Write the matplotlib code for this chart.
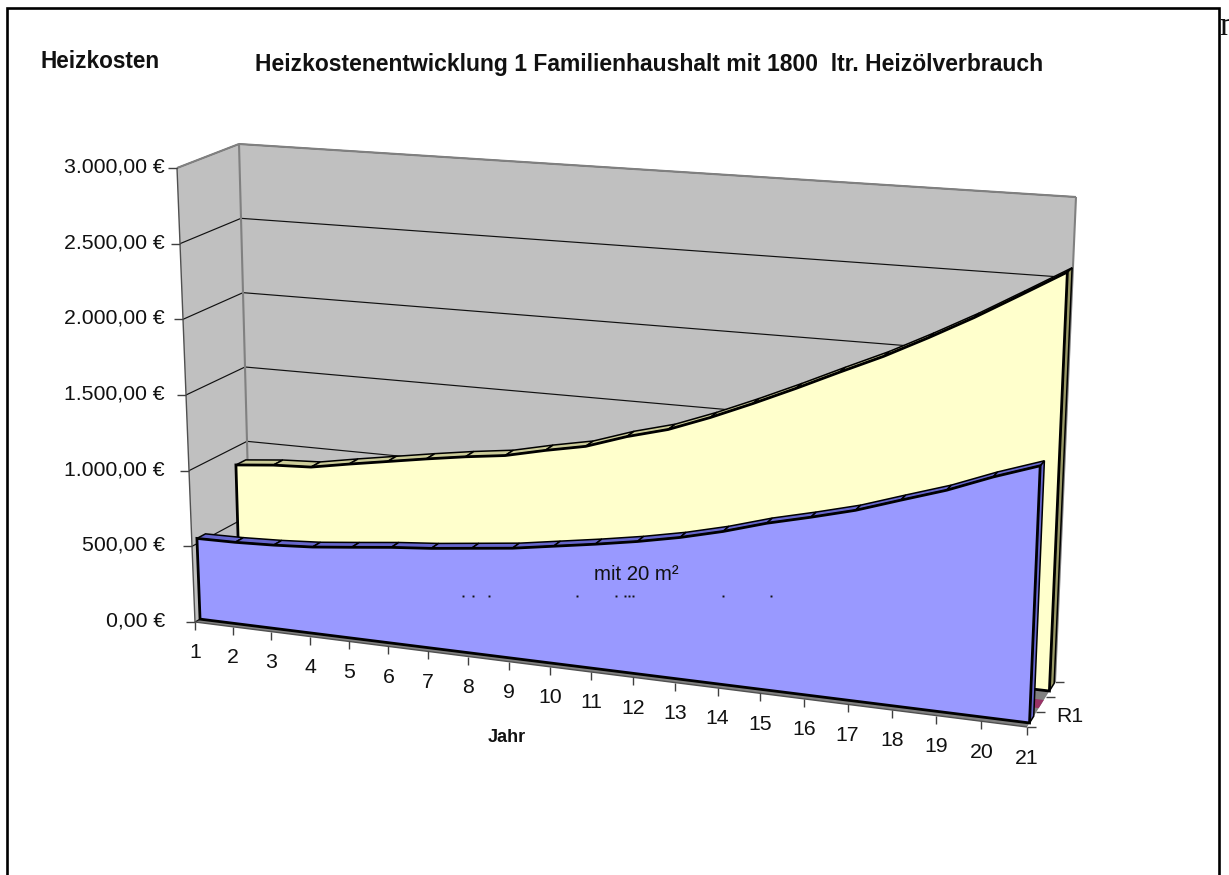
import matplotlib
matplotlib.use("Agg")
import matplotlib.pyplot as plt
from matplotlib.patches import Polygon

plt.rcParams["font.family"] = ["Liberation Sans", "DejaVu Sans"]

# Annual heating costs in euro per series, year 1 to 21
years = list(range(1, 22))
costs_front = [534, 537, 547, 563, 590, 618, 640, 669, 698, 739, 780, 825, 878, 943, 1021,
               1085, 1154, 1242, 1328, 1433, 1525]
costs_middle = [0] * 21
costs_rear = [881, 905, 917, 962, 1004, 1046, 1085, 1118, 1176, 1227, 1314, 1384, 1484, 1596,
              1715, 1840, 1962, 2100, 2246, 2405, 2567]
value_ticks = [0, 500, 1000, 1500, 2000, 2500, 3000]
value_labels = ["0,00 €", "500,00 €", "1.000,00 €", "1.500,00 €", "2.000,00 €", "2.500,00 €", "3.000,00 €"]

title_text = "Heizkostenentwicklung 1 Familienhaushalt mit 1800  ltr. Heizölverbrauch"
y_title_text = "Heizkosten"
x_title_text = "Jahr"
depth_label = "R1"
note_text = "mit 20 m²"

WIDTH, HEIGHT = 1229, 875
VALUE_MAX = 3000.0
PERSPECTIVE = 1.10

# Frame of the 3D box in figure pixels: (left, right) at value 0 and at the axis maximum
FRONT_FLOOR = ((195, 622), (1027, 727))
FRONT_TOP = ((177, 168), (1048, 219))
BACK_FLOOR = ((251, 590), (1055, 682))
BACK_TOP = ((239, 144), (1076, 197))


def lerp(a, b, t):
    return (a[0] + (b[0] - a[0]) * t, a[1] + (b[1] - a[1]) * t)


def project(year, value, depth):
    """Map (year, value, depth 0..1) onto the perspective box."""
    t = (year - years[0]) / (years[-1] - years[0])
    w = t / (t + PERSPECTIVE * (1 - t)) if t > 0 else 0.0
    f = value / VALUE_MAX
    front = lerp(lerp(*FRONT_FLOOR, w), lerp(*FRONT_TOP, w), f)
    back = lerp(lerp(*BACK_FLOOR, w), lerp(*BACK_TOP, w), f)
    return lerp(front, back, depth)


fig = plt.figure(figsize=(WIDTH / 100, HEIGHT / 100), dpi=100, facecolor="white")
ax = fig.add_axes([0, 0, 1, 1])
ax.set_xlim(0, WIDTH)
ax.set_ylim(HEIGHT, 0)
ax.axis("off")

WALL = "#C0C0C0"
EDGE = "#808080"
INK = "#111111"


def poly(points, face, edge="none", lw=0.0, z=1):
    ax.add_patch(Polygon(points, closed=True, facecolor=face, edgecolor=edge, linewidth=lw,
                         joinstyle="miter", zorder=z))


def line(a, b, color=INK, lw=0.8, z=2):
    ax.plot([a[0], b[0]], [a[1], b[1]], color=color, lw=lw, solid_capstyle="butt", zorder=z)


first, last = years[0], years[-1]

# Walls and floor
poly([project(first, 0, 0), project(first, VALUE_MAX, 0), project(first, VALUE_MAX, 1), project(first, 0, 1)], WALL)
poly([project(first, 0, 1), project(first, VALUE_MAX, 1), project(last, VALUE_MAX, 1), project(last, 0, 1)], WALL)
poly([project(first, 0, 0), project(last, 0, 0), project(last, 0, 1), project(first, 0, 1)], EDGE)

# Gridlines across both walls
for v in value_ticks:
    line(project(first, v, 0), project(first, v, 1), lw=0.85)
    line(project(first, v, 1), project(last, v, 1), lw=0.85)

# Wall outlines
line(project(first, VALUE_MAX, 0), project(first, VALUE_MAX, 1), EDGE, 1.5, 3)
line(project(first, VALUE_MAX, 1), project(last, VALUE_MAX, 1), EDGE, 1.5, 3)
line(project(first, 0, 1), project(first, VALUE_MAX, 1), EDGE, 1.5, 3)
line(project(last, 0, 1), project(last, VALUE_MAX, 1), EDGE, 1.5, 3)
line(project(first, 0, 0), project(first, VALUE_MAX, 0), "#505050", 1.0, 3)


def slab(values, d0, d1, face, top, side, z, outlined=True):
    """Area series drawn as a thin slab between two depths."""
    edge = "black" if outlined else "none"
    poly([project(last, 0, d0), project(last, values[-1], d0),
          project(last, values[-1], d1), project(last, 0, d1)], side, edge, 1.1 if outlined else 0, z)
    for i in range(len(years) - 1):
        poly([project(years[i], values[i], d0), project(years[i + 1], values[i + 1], d0),
              project(years[i + 1], values[i + 1], d1), project(years[i], values[i], d1)],
             top, edge, 1.1 if outlined else 0, z)
    outline = [project(years[0], 0, d0)]
    outline += [project(y, v, d0) for y, v in zip(years, values)]
    outline.append(project(years[-1], 0, d0))
    poly(outline, face, edge, 2.0 if outlined else 0, z + 0.1)


slab(costs_rear, 0.80, 0.97, "#FFFFCC", "#CCCC99", "#999966", 4)
slab(costs_middle, 0.42, 0.60, "#993366", "#993366", "#993366", 5, outlined=False)
slab(costs_front, 0.09, 0.24, "#9999FF", "#6666CC", "#6666CC", 6)

# Value axis ticks and labels
for v, label in zip(value_ticks, value_labels):
    x, y = project(first, v, 0)
    line((x - 9, y), (x, y), "#404040", 1.0, 3)
    ax.text(165, y - 1, label, ha="right", va="center", fontsize=15.3, color=INK, zorder=8)

# Year axis line, ticks and labels
line(project(first, 0, 0), project(last, 0, 0), "#505050", 1.0, 3)
for y_val in years:
    x, y = project(y_val, 0, 0)
    line((x, y), (x, y + 8), "#404040", 1.0, 3)
    ax.text(x, y + 31, str(y_val), ha="center", va="center", fontsize=15.3, color=INK, zorder=8)

# Depth axis ticks
for d in (0, 1 / 3, 2 / 3, 1):
    x, y = project(last, 0, d)
    line((x, y), (x + 9, y), "#404040", 1.0, 3)
ax.text(1056, 717, depth_label, ha="left", va="center", fontsize=15.3, color=INK, zorder=8)

# Titles and annotation
ax.text(649.5, 64, title_text, ha="center", va="center", fontsize=16.5, fontweight="bold", color=INK, zorder=8)
ax.text(100.5, 62, y_title_text, ha="center", va="center", fontsize=16.3, fontweight="bold", color=INK, zorder=8)
ax.text(507, 738, x_title_text, ha="center", va="center", fontsize=13, fontweight="bold", color=INK, zorder=8)
ax.text(636, 574, note_text, ha="center", va="center", fontsize=14.7, color=INK, zorder=8)

# Remnant of a cut-off text row below the annotation
remnant_x = [463, 473, 489, 577, 616, 625, 629, 633, 723, 771]
ax.plot(remnant_x, [596] * len(remnant_x), ls="none", marker="s", ms=1.4, color=INK, mew=0, zorder=8)

# Outer border, open at the bottom
ax.plot([7, 7, 1219, 1219], [HEIGHT, 8, 8, HEIGHT], color="black", lw=1.9, solid_joinstyle="miter", zorder=9)
ax.text(1219, 27, "n", ha="left", va="center", fontsize=24, family="Liberation Serif", color=INK, zorder=8)

fig.savefig("out.png", dpi=100, facecolor="white")
